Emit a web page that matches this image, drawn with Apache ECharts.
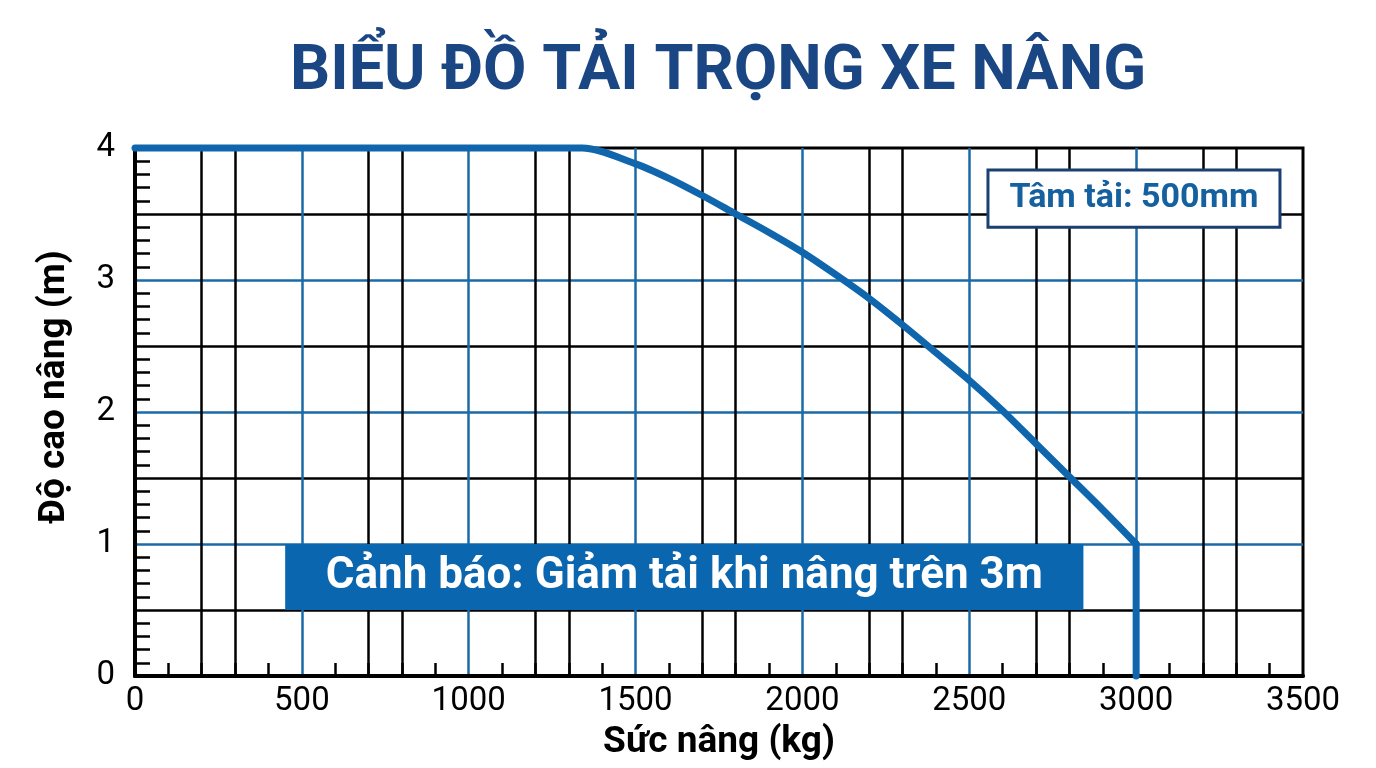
<!DOCTYPE html>
<html>
<head>
<meta charset="utf-8">
<script src="https://cdn.jsdelivr.net/npm/echarts@6/dist/echarts.min.js"></script>
<style>
html,body{margin:0;padding:0;background:#fff;}
#chart{width:1376px;height:768px;}
</style>
</head>
<body>
<div id="chart"></div>
<script>
// ---- data ----
const capacityKg = [0, 1200, 1340, 1500, 1600, 1700, 1800, 1900, 2000, 2100, 2200, 2300, 2400, 2500, 2600, 2700, 2800, 2900, 3000];
const heightM    = [4, 4,    4,    3.88, 3.77, 3.64, 3.50, 3.36, 3.21, 3.04, 2.86, 2.66, 2.45, 2.24, 2.01, 1.76, 1.51, 1.26, 1.0];
const dropKg = [3000, 3000];
const dropM  = [1.0, 0];
const xTicks = [0, 500, 1000, 1500, 2000, 2500, 3000, 3500];
const yTicks = [0, 1, 2, 3, 4];

const titleText = 'BIỂU ĐỒ TẢI TRỌNG XE NÂNG';
const xName = 'Sức nâng (kg)';
const yName = 'Độ cao nâng (m)';
const loadCenterText = 'Tâm tải: 500mm';
const warningText = 'Cảnh báo: Giảm tải khi nâng trên 3m';

const BLUE = '#0f66ad';
const GRID_BLUE = '#1b6aa8';
const T = 'rgba(0,0,0,0)';
const FONT = 'Roboto, "Noto Sans", sans-serif';

const curve = capacityKg.map((x, i) => [x, heightM[i]]);
const drop = dropKg.map((x, i) => [x, dropM[i]]);
const curveLine = {color: BLUE, width: 7, cap: 'round', join: 'round'};

const chart = echarts.init(document.getElementById('chart'));
chart.setOption({
  animation: false,
  backgroundColor: '#ffffff',
  title: {
    text: titleText,
    left: 285,
    top: 37,
    textStyle: {color: '#1a4784', fontSize: 63, fontWeight: 'bold', fontFamily: FONT}
  },
  grid: {
    left: 135, right: 73, top: 148, bottom: 92,
    show: true, borderColor: '#000', borderWidth: 3, backgroundColor: 'transparent'
  },
  xAxis: [
    {
      type: 'value', min: 0, max: 3500, interval: 500,
      name: xName, nameLocation: 'middle', nameGap: 48,
      nameTextStyle: {color: '#000', fontSize: 37, fontWeight: 'bold', fontFamily: FONT},
      axisLine: {show: true, lineStyle: {color: '#000', width: 4}},
      axisTick: {show: false, inside: true},
      minorTick: {show: true, splitNumber: 5, length: 13, lineStyle: {color: '#000', width: 2.5}},
      axisLabel: {
        color: '#000', fontSize: 33, fontFamily: FONT, margin: 9,
        formatter: v => (xTicks.indexOf(v) >= 0 ? String(v) : '')
      },
      splitLine: {show: true, showMinLine: false, showMaxLine: false, lineStyle: {color: GRID_BLUE, width: 2.5}}
    },
    {
      type: 'value', min: 0, max: 3500, interval: 100, position: 'bottom',
      axisLine: {show: false}, axisTick: {show: false}, axisLabel: {show: false},
      splitLine: {
        show: true, showMinLine: false, showMaxLine: false,
        lineStyle: {color: [T, '#000', '#000', T, T], width: 2.5}
      }
    }
  ],
  yAxis: {
    type: 'value', min: 0, max: 4, interval: 0.5,
    name: yName, nameLocation: 'middle', nameGap: 62, nameRotate: 90,
    nameTextStyle: {color: '#000', fontSize: 37, fontWeight: 'bold', fontFamily: FONT, padding: [0, 0, 0, 50]},
    axisLine: {show: true, lineStyle: {color: '#000', width: 4}},
    axisTick: {show: false, inside: true},
    minorTick: {show: true, splitNumber: 5, length: 15, lineStyle: {color: '#000', width: 2.5}},
    axisLabel: {
      color: '#000', fontSize: 33, fontFamily: FONT, margin: 20,
      formatter: v => (yTicks.indexOf(v) >= 0 ? String(v) : '')
    },
    splitLine: {show: true, showMinLine: false, showMaxLine: false, lineStyle: {color: ['#000', GRID_BLUE], width: 2.5}}
  },
  series: [
    {
      type: 'line',
      data: curve,
      xAxisIndex: 0,
      symbol: 'none',
      clip: false,
      smooth: 0.3,
      lineStyle: curveLine,
      z: 5,
      markArea: {
        silent: true,
        data: [
          [
            {
              xAxis: 450, yAxis: 1.0,
              itemStyle: {color: '#0b66b0', borderWidth: 0},
              label: {show: true, position: 'inside', formatter: warningText, color: '#fff', fontSize: 44, fontWeight: 'bold', fontFamily: FONT}
            },
            {xAxis: 2842, yAxis: 0.5}
          ],
          [
            {
              xAxis: 2556, yAxis: 3.833,
              itemStyle: {color: '#fff', borderColor: '#1b3f70', borderWidth: 3},
              label: {show: true, position: 'inside', formatter: loadCenterText, color: '#15609f', fontSize: 34, fontWeight: 'bold', fontFamily: FONT}
            },
            {xAxis: 3431, yAxis: 3.40}
          ]
        ]
      }
    },
    {
      type: 'line',
      data: drop,
      xAxisIndex: 0,
      symbol: 'none',
      clip: false,
      lineStyle: curveLine,
      z: 5
    }
  ]
});
</script>
</body>
</html>
